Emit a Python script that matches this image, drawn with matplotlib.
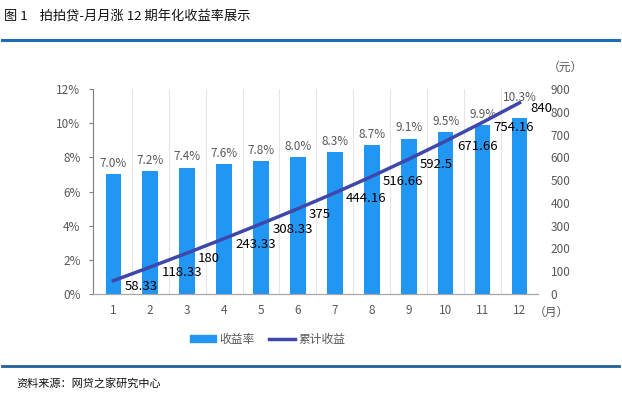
import numpy as np
import matplotlib
matplotlib.use("Agg")
from matplotlib import pyplot as plt
from matplotlib.patches import Patch
from matplotlib.lines import Line2D

plt.rcParams['font.family'] = ['Noto Sans CJK SC', 'DejaVu Sans']

months = list(range(1, 13))
rate = [7.0, 7.2, 7.4, 7.6, 7.8, 8.0, 8.3, 8.7, 9.1, 9.5, 9.9, 10.3]
income = [58.33, 118.33, 180, 243.33, 308.33, 375, 444.16, 516.66, 592.5, 671.66, 754.16, 840]
income_labels = ["58.33", "118.33", "180", "243.33", "308.33", "375", "444.16",
                 "516.66", "592.5", "671.66", "754.16", "840"]

bar_color = "#2196F3"
line_color = "#3F48AA"
grey = "#595959"

fig = plt.figure(figsize=(6.22, 3.96), dpi=100)
ax = fig.add_axes([0.1495, 0.2576, 0.7155, 0.5174])
ax2 = ax.twinx()

x = np.array(months)
ax.bar(x, rate, 0.42, color=bar_color, zorder=2)
ax.set_xlim(0.45, 12.5)
ax.set_ylim(0, 12)
ax.set_yticks(range(0, 13, 2))
ax.set_yticklabels(["{}%".format(v) for v in range(0, 13, 2)])
ax.set_xticks(x)
ax.set_xticklabels([str(m) for m in months])
for b in np.arange(1.5, 12.5, 1):
    ax.axvline(b, color="#E6E6E6", lw=0.8, zorder=0)

for i, (xi, r) in enumerate(zip(x, rate)):
    dy = 10 if i == len(rate) - 1 else 3  # last label sits higher, clear of "840"
    ax.annotate("{:.1f}%".format(r), xy=(xi, r), xytext=(0, dy), textcoords="offset points",
                ha="center", va="bottom", fontsize=8.5, color=grey)

ax2.plot(x, income, color=line_color, lw=2.5, zorder=3)
ax2.set_ylim(0, 900)
ax2.set_yticks(range(0, 901, 100))
for xi, v, s in zip(x, income, income_labels):
    ax2.annotate(s, xy=(xi, v), xytext=(8, -4), textcoords="offset points",
                 ha="left", va="center", fontsize=9.5, color="black")

for a in (ax, ax2):
    for sp in ("top", "right", "left"):
        a.spines[sp].set_visible(False)
    a.spines["bottom"].set_color("#A6A6A6")
    a.tick_params(labelsize=8.5, colors=grey, length=0)
ax.spines["left"].set_visible(True)
ax.spines["left"].set_color("#7F7F7F")
ax.tick_params(axis="y", length=3, color="#7F7F7F", pad=6)
ax.tick_params(axis="x", pad=7)
ax2.tick_params(axis="y", pad=9)

fig.text(0.858, 0.212, "（月）", fontsize=8.5, color=grey, ha="left", va="center")
fig.text(0.88, 0.83, "（元）", fontsize=8.5, color=grey, ha="left", va="center")

# title and rules
fig.text(0.006, 0.957, "图 1    拍拍贷-月月涨 12 期年化收益率展示", fontsize=9.5, color="#111111",
         ha="left", va="center")
fig.add_artist(Line2D([0.003, 0.995], [0.9, 0.9], color="#1E6BB8", lw=2.2))
fig.add_artist(Line2D([0.003, 0.995], [0.076, 0.076], color="#1E5F9A", lw=2.0))
fig.text(0.026, 0.032, "资料来源：网贷之家研究中心", fontsize=8, color="#111111", ha="left", va="center")

handles = [Patch(color=bar_color, label="收益率"),
           Line2D([0], [0], color=line_color, lw=2.5, label="累计收益")]
fig.legend(handles=handles, loc="center", bbox_to_anchor=(0.43, 0.143), ncol=2, frameon=False,
           fontsize=8.5, handlelength=2.2, handleheight=0.5, columnspacing=1.2,
           labelcolor=grey, handletextpad=0.3)

fig.savefig("out.png", dpi=100)
